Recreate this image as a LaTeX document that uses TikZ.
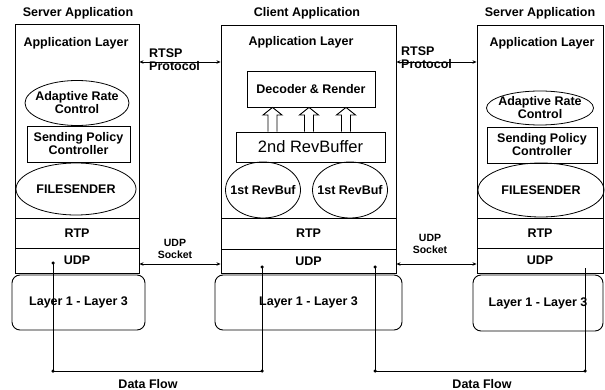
\documentclass[tikz,border=0pt]{standalone}
\usepackage{fontspec}
\setmainfont{Liberation Sans}
\usetikzlibrary{arrows.meta,shapes.geometric}

\tikzset{
  lbl/.style={font=\bfseries\fontsize{12.5}{13}\selectfont, align=center, inner sep=0pt},
  small/.style={font=\bfseries\fontsize{10.5}{12}\selectfont, align=center, inner sep=0pt},
  colbox/.style={draw, line width=0.9pt, inner sep=0pt},
  rowbox/.style={draw, line width=0.8pt, inner sep=0pt, lbl},
  layerbox/.style={draw, line width=0.9pt, rounded corners=8pt, inner sep=0pt, lbl},
  % the ellipse keeps its own size; its text is set as a centred label
  oval/.style={ellipse, draw, line width=0.8pt, inner sep=0pt,
               label={[lbl]center:#1}},
  rect/.style={draw, line width=0.8pt, inner sep=0pt, lbl},
  conn/.style={line width=0.8pt, {Stealth[length=4pt,width=3.5pt]}-{Stealth[length=4pt,width=3.5pt]}},
  flow/.style={line width=0.8pt},
  dot/.style={circle, fill, inner sep=0pt, minimum size=3.5pt},
  uparrow/.style={draw, line width=0.9pt, fill=white, line join=miter}
}

\begin{document}
\begin{tikzpicture}[x=1pt, y=-1pt]
\useasboundingbox (0,0) rectangle (605,390);

% ---------- titles ----------
\node[lbl] (tl) at (78,13) {Server Application};
\node[lbl] (tc) at (307,13) {Client Application};
\node[lbl] (tr) at (540,13) {Server Application};

% ---------- column frames ----------
\node[colbox, minimum width=124pt, minimum height=249pt] (lsrv) at (77,148.5) {};
\node[colbox, minimum width=175pt, minimum height=248pt] (cli) at (308.5,149) {};
\node[colbox, minimum width=126pt, minimum height=248pt] (rsrv) at (540,149) {};

% ---------- left server ----------
\node[lbl] (lapp) at (76,43) {Application Layer};
\node[oval={Adaptive Rate\\Control}, minimum width=104pt, minimum height=45pt] (larc) at (77,103) {};
\node[rect, minimum width=103pt, minimum height=36pt] (lspc) at (78.5,144) {Sending Policy\\Controller};
\node[oval={FILESENDER}, minimum width=120pt, minimum height=52pt] (lfs) at (76,189) {};
\node[rowbox, minimum width=124pt, minimum height=30pt] (lrtp) at (77,233) {RTP};
\node[rowbox, minimum width=124pt, minimum height=25pt] (ludp) at (77,260.5) {UDP};
\node[layerbox, minimum width=133pt, minimum height=55pt] (llay) at (78.5,302.5) {Layer 1 - Layer 3};

% ---------- client ----------
\node[lbl] (capp) at (301,42) {Application Layer};
\node[rect, minimum width=128pt, minimum height=36pt] (dec) at (311,89) {Decoder \& Render};
\node[rect, font=\fontsize{16.5}{18}\selectfont, minimum width=149pt, minimum height=30pt] (rb2) at (310.5,147) {2nd RevBuffer};
\node[oval={1st RevBuf}, minimum width=75pt, minimum height=56pt] (rb1a) at (263,190) {};
\node[oval={1st RevBuf}, minimum width=75pt, minimum height=56pt] (rb1b) at (350,190) {};
\node[rowbox, minimum width=175pt, minimum height=31pt] (crtp) at (308.5,233.5) {RTP};
\node[rowbox, minimum width=175pt, minimum height=24pt] (cudp) at (308.5,261) {UDP};
\node[layerbox, minimum width=187pt, minimum height=55pt] (clay) at (308.5,302.5) {Layer 1 - Layer 3};

% hollow arrows from the 2nd buffer up to the decoder
\foreach \ax in {272.5,309,346}{
  \draw[uparrow] (rb2.north -| \ax-4.5,0) -- (\ax-4.5,115) -- (\ax-9.5,115)
    -- (dec.south -| \ax,0) -- (\ax+9.5,115) -- (\ax+4.5,115) -- (rb2.north -| \ax+4.5,0);
}

% ---------- right server ----------
\node[lbl] (rapp) at (542,43) {Application Layer};
\node[oval={Adaptive Rate\\Control}, minimum width=107pt, minimum height=34pt] (rarc) at (540,108) {};
\node[rect, minimum width=110pt, minimum height=36pt] (rspc) at (542,145) {Sending Policy\\Controller};
\node[oval={FILESENDER}, minimum width=126pt, minimum height=54pt] (rfs) at (541,190) {};
\node[rowbox, minimum width=126pt, minimum height=30pt] (rrtp) at (540,233) {RTP};
\node[rowbox, minimum width=126pt, minimum height=25pt] (rudp) at (540,260.5) {UDP};
\node[layerbox, minimum width=130pt, minimum height=56pt] (rlay) at (538,303) {Layer 1 - Layer 3};

% ---------- RTSP control links ----------
\draw[conn] (lsrv.east |- 0,62) -- (cli.west |- 0,62);
\draw[conn] (cli.east |- 0,62) -- (rsrv.west |- 0,62);
\node[lbl, align=left, anchor=west] (rtspl) at (149,59.5) {RTSP\\Protocol};
\node[lbl, align=left, anchor=west] (rtspr) at (401,57.5) {RTSP\\Protocol};

% ---------- UDP socket links ----------
\draw[conn] (lsrv.east |- 0,264) -- (cli.west |- 0,264);
\draw[conn] (cli.east |- 0,264) -- (rsrv.west |- 0,264);
\node[small] (udpl) at (175,249) {UDP\\Socket};
\node[small] (udpr) at (430,244) {UDP\\Socket};

% ---------- data flow ----------
\coordinate (fa) at (53,263);
\coordinate (fb) at (53,371);
\coordinate (fc) at (262,371);
\coordinate (fd) at (262,267);
\coordinate (fe) at (375,267);
\coordinate (ff) at (375,371);
\coordinate (fg) at (585,371);
\coordinate (fh) at (585,268);
\draw[flow] (fa) -- (fb) -- (fc) -- (fd);
\draw[flow] (fe) -- (ff) -- (fg) -- (fh);
\foreach \p in {fa,fb,fc,fd,fe,ff,fg}{ \node[dot] at (\p) {}; }

\node[lbl] (dfl) at (148,384) {Data Flow};
\node[lbl] (dfr) at (482,384) {Data Flow};

\end{tikzpicture}
\end{document}
